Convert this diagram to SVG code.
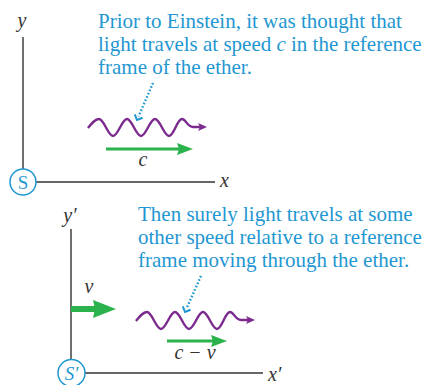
<svg xmlns="http://www.w3.org/2000/svg" width="428" height="385" viewBox="0 0 428 385">
<style>
.note{font-family:'Liberation Serif',serif;font-size:21px;fill:#1f97d2}
.lab{font-family:'Liberation Serif',serif;font-size:20px;font-style:italic;fill:#333}
.axis{stroke:#333;stroke-width:1.4;fill:none}
.frame{fill:#fff;stroke:#1f97d2;stroke-width:1.5}
.flab{font-family:'Liberation Serif',serif;font-size:19px;fill:#1f97d2;text-anchor:middle}
.wave{fill:none;stroke:#7b2a8e;stroke-width:2.4}
.whead{fill:#7b2a8e}
.vel{stroke:#2bb24c;fill:none}
.vhead{fill:#2bb24c}
.dot{fill:none;stroke:#1f97d2;stroke-width:2.4;stroke-dasharray:1.6 2}
.chev{fill:none;stroke:#1f97d2;stroke-width:2}
</style>
<defs>
<g id="wavepath">
<path class="wave" d="M88,128 C92,123 95,119 99,119 C104,119 108,136 113,136 C118,136 122,119 127,119 C132,119 136,136 141,136 C146,136 150,119 155,119 C160,119 164,136 169,136 C174,136 177,119 182,119 C186,119 187,127 193,127 L200,127"/>
<path class="whead" d="M207,127 L198,123 L200,127 L198,131 Z"/>
</g>
</defs>

<g id="connectors">
<line class="axis" x1="23" y1="37" x2="23" y2="170"/>
<line class="axis" x1="36" y1="182" x2="215" y2="182"/>
<line class="axis" x1="71" y1="229" x2="71" y2="360"/>
<line class="axis" x1="85" y1="373" x2="263" y2="373"/>
<line class="dot" x1="153" y1="83" x2="138.5" y2="116.5"/>
<polyline class="chev" points="134.8,114.4 137,120 142.6,117.8"/>
<line class="dot" x1="201" y1="276" x2="186.5" y2="308.5"/>
<polyline class="chev" points="182.8,306.4 185,312 190.6,309.8"/>
</g>

<g id="frameS">
<circle class="frame" cx="23" cy="182" r="13"/>
<text class="flab" x="23" y="189">S</text>
<text class="lab" x="22" y="27" text-anchor="middle">y</text>
<text class="lab" x="220" y="187">x</text>
</g>

<g id="frameSprime">
<circle class="frame" cx="71.5" cy="373" r="13.5"/>
<text class="flab" x="71.5" y="380" font-style="italic">S′</text>
<text class="lab" x="70" y="222" text-anchor="middle">y′</text>
<text class="lab" x="268" y="381">x′</text>
</g>

<g id="note1">
<text class="note" x="98" y="28">Prior to Einstein, it was thought that</text>
<text class="note" x="98" y="51">light travels at speed <tspan font-style="italic">c</tspan> in the reference</text>
<text class="note" x="98" y="74">frame of the ether.</text>
</g>

<g id="note2">
<text class="note" x="138" y="221">Then surely light travels at some</text>
<text class="note" x="138" y="244">other speed relative to a reference</text>
<text class="note" x="138" y="267">frame moving through the ether.</text>
</g>

<g id="lightTop">
<use href="#wavepath"/>
</g>
<g id="velTop">
<line class="vel" x1="106" y1="149" x2="180" y2="149" stroke-width="3"/>
<path class="vhead" d="M193,149 L177,143 L179,149 L177,155 Z"/>
<text class="lab" x="143" y="166" text-anchor="middle">c</text>
</g>

<g id="lightBottom">
<use href="#wavepath" transform="translate(48,193)"/>
</g>
<g id="velBottom">
<line class="vel" x1="167" y1="341" x2="214" y2="341" stroke-width="3"/>
<path class="vhead" d="M227,341 L211,335 L213,341 L211,347 Z"/>
<text class="lab" x="195" y="359" text-anchor="middle">c − v</text>
</g>

<g id="frameVel">
<line class="vel" x1="71" y1="309" x2="95" y2="309" stroke-width="6"/>
<path class="vhead" d="M116,309 L93,300 L95,309 L93,318 Z"/>
<text class="lab" x="89" y="293" text-anchor="middle">v</text>
</g>
</svg>
